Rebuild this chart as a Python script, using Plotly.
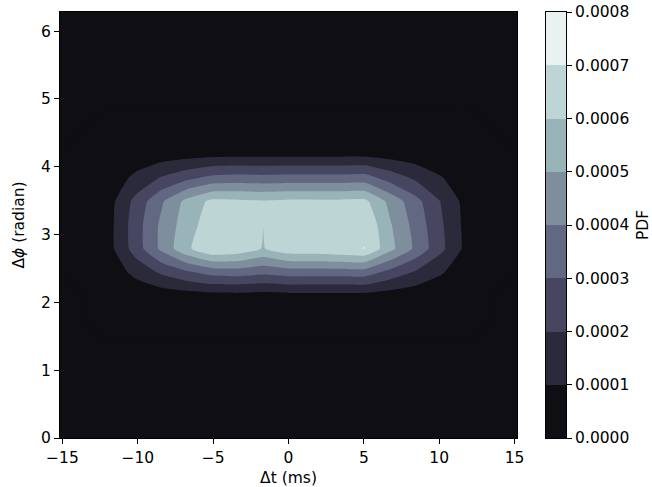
import plotly.graph_objects as go

# ---- data ----
dt_ms = [-15.16, -13.48, -11.79, -10.11, -8.42, -6.74, -5.05, -3.37, -1.68, 0.0,
         1.68, 3.37, 5.05, 6.74, 8.42, 10.11, 11.79, 13.48, 15.16]
dphi_rad = [0.0, 0.349, 0.698, 1.047, 1.396, 1.745, 2.094, 2.443, 2.793, 3.142,
            3.491, 3.840, 4.189, 4.538, 4.887, 5.236, 5.585, 5.934, 6.283]

# PDF values in units of 1e-6 (rows = dphi, columns = dt)
pdf_micro = [
    [0, 0, 0, 0, 0, 0, 0, 0, 0, 0, 0, 0, 0, 0, 0, 0, 0, 0, 0],
    [0, 0, 0, 0, 0, 0, 0, 0, 0, 0, 0, 0, 0, 0, 0, 0, 0, 0, 0],
    [0, 0, 0, 0, 0, 0, 0, 0, 0, 0, 0, 0, 0, 0, 0, 0, 0, 0, 0],
    [0, 0, 0, 0, 0, 0, 0, 0, 0, 0, 0, 0, 0, 0, 0, 0, 0, 0, 0],
    [0, 0, 0, 0, 0, 0, 0, 0, 0, 0, 0, 0, 0, 0, 0, 0, 0, 0, 0],
    [0, 0, 1, 4, 6, 8, 10, 10, 10, 10, 10, 10, 10, 8, 5, 3, 1, 0, 0],
    [0, 0, 7, 23, 39, 51, 60, 62, 55, 62, 62, 62, 63, 47, 33, 20, 6, 0, 0],
    [0, 3, 41, 130, 216, 284, 338, 348, 325, 348, 348, 348, 353, 266, 188, 111, 36, 3, 0],
    [0, 5, 78, 250, 424, 580, 690, 668, 594, 666, 670, 690, 701, 530, 380, 225, 72, 5, 0],
    [0, 5, 80, 255, 423, 554, 660, 680, 601, 680, 680, 680, 690, 510, 365, 216, 70, 5, 0],
    [0, 5, 73, 233, 386, 530, 625, 620, 611, 620, 620, 620, 625, 470, 335, 197, 64, 5, 0],
    [0, 2, 39, 126, 208, 273, 325, 335, 330, 335, 335, 335, 340, 256, 181, 107, 35, 2, 0],
    [0, 1, 8, 26, 44, 57, 68, 70, 69, 70, 70, 70, 71, 54, 38, 22, 7, 1, 0],
    [0, 0, 1, 4, 6, 8, 10, 10, 10, 10, 10, 10, 10, 8, 5, 3, 1, 0, 0],
    [0, 0, 0, 0, 0, 0, 0, 0, 0, 0, 0, 0, 0, 0, 0, 0, 0, 0, 0],
    [0, 0, 0, 0, 0, 0, 0, 0, 0, 0, 0, 0, 0, 0, 0, 0, 0, 0, 0],
    [0, 0, 0, 0, 0, 0, 0, 0, 0, 0, 0, 0, 0, 0, 0, 0, 0, 0, 0],
    [0, 0, 0, 0, 0, 0, 0, 0, 0, 0, 0, 0, 0, 0, 0, 0, 0, 0, 0],
    [0, 0, 0, 0, 0, 0, 0, 0, 0, 0, 0, 0, 0, 0, 0, 0, 0, 0, 0],
]

levels = [0.0, 0.0001, 0.0002, 0.0003, 0.0004, 0.0005, 0.0006, 0.0007, 0.0008]
level_labels = ["0.0000", "0.0001", "0.0002", "0.0003", "0.0004",
                "0.0005", "0.0006", "0.0007", "0.0008"]
x_ticks = [-15, -10, -5, 0, 5, 10, 15]
y_ticks = [0, 1, 2, 3, 4, 5, 6]

# bone colormap sampled at the band centres
band_colors = ["rgb(14,14,19)", "rgb(42,42,58)", "rgb(70,70,97)", "rgb(98,104,129)",
               "rgb(126,142,157)", "rgb(153,180,185)", "rgb(190,213,213)", "rgb(233,241,241)"]

pdf = [[v * 1e-6 for v in row] for row in pdf_micro]

# ---- colorscales ----
nb = len(band_colors)
n_lev = len(levels)  # plotly maps band k to s=(k+1)/n_lev
contour_cs = [[0.0, band_colors[0]], [1.5 / n_lev, band_colors[0]]]
for k in range(1, nb):
    lo = (k + 0.5) / n_lev
    hi = (k + 1.5) / n_lev if k < nb - 1 else 1.0
    contour_cs.append([lo, band_colors[k]])
    contour_cs.append([hi, band_colors[k]])

bar_cs = []
for k in range(nb):
    bar_cs.append([k / nb, band_colors[k]])
    bar_cs.append([(k + 1) / nb, band_colors[k]])

mids = [(levels[k] + levels[k + 1]) / 2 for k in range(nb)]

FONT = dict(family="DejaVu Sans", size=15.5, color="black")

fig = go.Figure()
fig.add_trace(go.Contour(
    x=dt_ms, y=dphi_rad, z=pdf,
    autocontour=False,
    contours=dict(start=levels[0], end=levels[-1], size=levels[1] - levels[0],
                  coloring="fill", showlines=False),
    line=dict(width=0, smoothing=0.4),
    colorscale=contour_cs, showscale=False, hoverinfo="skip",
))
fig.add_trace(go.Heatmap(
    x=[0], y=mids, z=[[m] for m in mids],
    zmin=levels[0], zmax=levels[-1], colorscale=bar_cs, showscale=False,
    xaxis="x2", yaxis="y2", hoverinfo="skip",
))

W, H = 652, 487
L, R, T, B = 60, 0, 12, 49
pw = W - L - R
axis_common = dict(ticks="outside", ticklen=5, tickwidth=1, tickcolor="black",
                   showline=True, linecolor="black", linewidth=1, mirror=True,
                   showgrid=False, zeroline=False, tickfont=FONT)

fig.update_layout(
    width=W, height=H,
    margin=dict(l=L, r=R, t=T, b=B, pad=0),
    paper_bgcolor="white", plot_bgcolor="white",
    showlegend=False, font=FONT,
    xaxis=dict(domain=[0, 457 / pw], range=[dt_ms[0], dt_ms[-1]],
               tickvals=x_ticks, automargin=False,
               title=dict(text="Δt (ms)", font=FONT, standoff=8), **axis_common),
    yaxis=dict(domain=[0, 1], range=[dphi_rad[0], dphi_rad[-1]],
               tickvals=y_ticks, automargin=False,
               title=dict(text="Δ<i>ϕ</i> (radian)", font=FONT, standoff=12), **axis_common),
    xaxis2=dict(domain=[486 / pw, 506 / pw], anchor="y2", range=[-0.5, 0.5],
                showticklabels=False, ticks="", showline=True, linecolor="black",
                linewidth=1, mirror=True, showgrid=False, zeroline=False),
    yaxis2=dict(domain=[0, 1], anchor="x2", side="right", range=[levels[0], levels[-1]],
                tickvals=levels, ticktext=level_labels, automargin=False,
                title=dict(text="PDF", font=FONT, standoff=12), **axis_common),
)

fig.write_html("out.html")
